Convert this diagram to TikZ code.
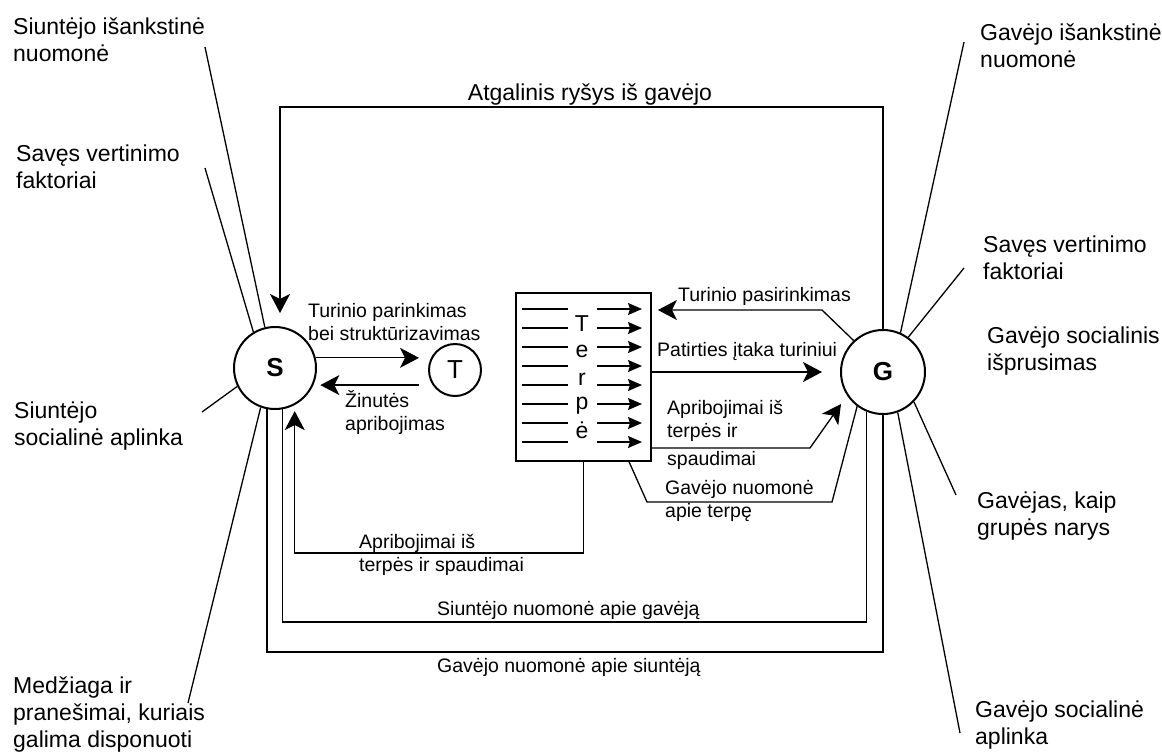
\documentclass[tikz,border=0pt]{standalone}
\usepackage{fontspec}
\setmainfont{Liberation Sans}
\usetikzlibrary{arrows.meta,calc}
\tikzset{
  lbl/.style={font=\fontsize{23}{27}\selectfont, align=left, inner sep=0pt, anchor=base west},
  mlbl/.style={font=\fontsize{19.5}{23}\selectfont, align=left, inner sep=0pt, anchor=base west},
  conn/.style={line width=1.3pt},
  bigarrow/.style={-{Stealth[length=19pt,width=20pt,inset=5pt]}},
  smallarrow/.style={-{Stealth[length=14pt,width=12pt,inset=2pt]}},
  agent/.style={circle, draw, line width=2pt, inner sep=0pt, font=\fontsize{26}{26}\selectfont\bfseries},
  terpeletter/.style={font=\fontsize{23}{23}\selectfont, anchor=base, inner sep=0pt},
}
\begin{document}
\begin{tikzpicture}[x=1pt,y=-1pt]
\useasboundingbox (0,0) rectangle (1162,753);
\fill[white] (0,0) rectangle (1162,753);

% main nodes
\node[agent, minimum size=82pt] (S) at (275,368) {S};
\node[circle, draw, line width=2pt, inner sep=0pt, minimum size=52pt, font=\fontsize{26}{26}\selectfont] (T) at (455,370) {T};
\node[agent, minimum size=84pt] (G) at (883,372) {G};
\node[draw, line width=1.8pt, minimum width=135pt, minimum height=168pt, inner sep=0pt] (box) at (583.5,377) {};

% inside the Terpe box
\foreach \i in {0,...,7}{
  \draw[conn] (522,309+19*\i) -- (568,309+19*\i);
  \draw[conn, smallarrow] (597,309+19*\i) -- (642,309+19*\i);
}
\foreach \l/\yy [count=\k] in {T/331, e/357, r/385, p/409, ė/438}
  \node[terpeletter] (tl\k) at (582,\yy) {\l};

% free-end coordinates
\coordinate (sl1) at (205,47);
\coordinate (sl2) at (205,168);
\coordinate (sl3) at (202,412);
\coordinate (sl4) at (188,703);
\coordinate (gl1) at (964,42);
\coordinate (gl2) at (964,268);
\coordinate (gl3) at (956,495);
\coordinate (gl4) at (960,733);
\coordinate (fbL) at (280,107);
\coordinate (fbTip) at (280,313);
\coordinate (Tl) at ([xshift=-9pt]T.west);
\coordinate (bot0) at (440,553);
\coordinate (bot1) at (575,622);
\coordinate (bot2) at (575,652);
\coordinate (tp) at (822,310);
\coordinate (ar1) at (810,448);
\coordinate (artip) at (841,404);
\coordinate (gn1) at (832,502);
\coordinate (gn2) at (647,502);

% radial lines
\draw[conn] (S.104) -- (sl1);
\draw[conn] (S.121) -- (sl2);
\draw[conn] (S.206) -- (sl3);
\draw[conn] (S.250) -- (sl4);
\draw[conn] (G.66.4) -- (gl1);
\draw[conn] (G.54.5) -- (gl2);
\draw[conn] (G.-44) -- (gl3);
\draw[conn] (G.-70.7) -- (gl4);

% connectors
\draw[conn, bigarrow] (G.north) |- (fbL) -- (fbTip);
\draw[conn, bigarrow, shorten >=9pt] (S.14) -- (S.14 -| T.west);
\draw[conn, bigarrow, shorten >=7pt] (Tl |- S.-24) -- (S.-24);
\draw[conn, bigarrow, shorten >=6pt] (box.south) -- (box.south |- bot0) -| (S.-62.4);
\draw[conn] (S.-80.2) -- (S.-80.2 |- bot1) -| (G.-113.9);
\draw[conn] (G.south) -- (G.south |- bot2) -| (S.-101.25);
\draw[conn, bigarrow, shorten >=6pt] (G.133) -- (tp) -- (tp -| box.east);
\draw[conn, bigarrow, shorten >=18pt] (box.east |- G.west) -- (G.west);
\draw[conn, bigarrow] (ar1 -| box.east) -- (ar1) -- (artip);
\draw[conn] (G.233.4) -- (gn1) -- (gn2) -- ([xshift=114pt]box.south west);

% outer labels (coordinates give the baseline of the last line)
\node[lbl] (l1) at (13,61) {Siuntėjo išankstinė\\nuomonė};
\node[lbl] (l2) at (16,188) {Savęs vertinimo\\faktoriai};
\node[lbl] (l3) at (14,445) {Siuntėjo\\socialinė aplinka};
\node[lbl] (l4) at (13,747) {Medžiaga ir\\pranešimai, kuriais\\galima disponuoti};
\node[lbl] (r1) at (980,67) {Gavėjo išankstinė\\nuomonė};
\node[lbl] (r2) at (983,279) {Savęs vertinimo\\faktoriai};
\node[lbl] (r3) at (987,370) {Gavėjo socialinis\\išprusimas};
\node[lbl] (r4) at (977,535) {Gavėjas, kaip\\grupės narys};
\node[lbl] (r5) at (975,744) {Gavėjo socialinė\\aplinka};

% middle labels
\node[mlbl, anchor=base, font=\fontsize{23}{23}\selectfont] (fbtxt) at (590,100) {Atgalinis ryšys iš gavėjo};
\node[mlbl] (m1) at (308,340) {Turinio parinkimas\\bei struktūrizavimas};
\node[mlbl] (m2) at (345,430) {Žinutės\\apribojimas};
\node[mlbl] (m3) at (678,301) {Turinio pasirinkimas};
\node[mlbl] (m4) at (657,356) {Patirties įtaka turiniui};
\node[mlbl] (m5) at (667,437) {Apribojimai iš\\terpės ir};
\node[mlbl] (m6) at (667,465) {spaudimai};
\node[mlbl] (m7) at (665,517) {Gavėjo nuomonė\\apie terpę};
\node[mlbl] (m8) at (359,571) {Apribojimai iš\\terpės ir spaudimai};
\node[mlbl] (m9) at (437,615) {Siuntėjo nuomonė apie gavėją};
\node[mlbl] (m10) at (437,672) {Gavėjo nuomonė apie siuntėją};
\end{tikzpicture}
\end{document}
